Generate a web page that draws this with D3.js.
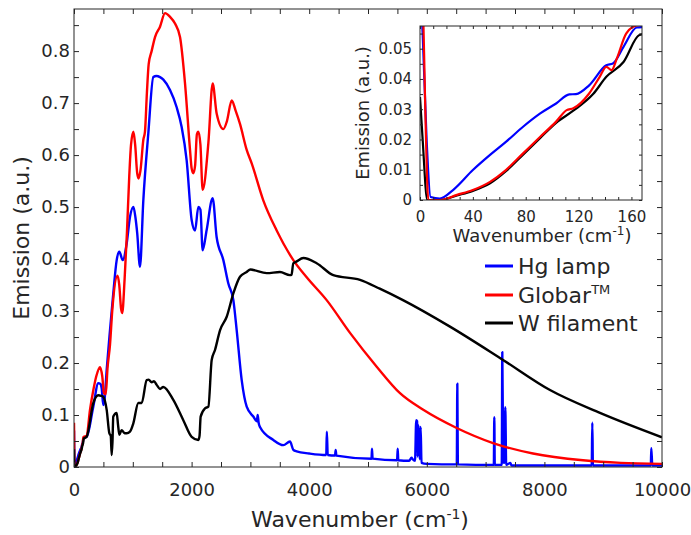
<!DOCTYPE html>
<html><head><meta charset="utf-8">
<script src="https://cdn.jsdelivr.net/npm/d3@7"></script>
<style>body{margin:0;background:#fff;} svg{display:block;} text{font-family:"DejaVu Sans",Verdana,sans-serif;fill:#262626;}</style>
</head><body>
<svg id="c" width="691" height="535"></svg>
<script>
// ---- data (wavenumber cm^-1, emission a.u.) ----
const seriesNames = ["Hg lamp", "Globar", "W filament"];
const hgLamp = [[0,0.07],[2,0.055],[5,0.02],[8,0.001],[15,0.0005],[25,0.0033],[40,0.0099],[53,0.0149],[65,0.0192],[78,0.0242],[91,0.0286],[103,0.0319],[113,0.0349],[118,0.035],[128,0.0379],[141,0.0445],[146,0.0451],[154,0.0506],[164,0.057],
[215,0.058],[328,0.116],[413,0.161],[445,0.16],[470,0.152],[498,0.119],[520,0.13],[556,0.187],[612,0.263],[668,0.334],[726,0.398],[771,0.414],[828,0.398],[896,0.43],[952,0.481],[1010,0.5],[1045,0.48],[1075,0.45],[1122,0.385],[1179,0.513],[1264,0.642],[1349,0.75],[1400,0.752],[1463,0.75],[1520,0.745],[1633,0.725],[1746,0.692],[1831,0.654],[1916,0.59],[2001,0.475],[2058,0.455],[2115,0.5],[2150,0.495],[2188,0.417],[2256,0.456],[2358,0.517],[2426,0.442],[2540,0.398],[2625,0.353],[2710,0.321],[2767,0.263],[2852,0.167],[2937,0.116],[3050,0.097],[3110,0.088],[3124,0.1],[3140,0.085],[3163,0.077],[3390,0.052],[3560,0.042],[3673,0.049],[3730,0.033],[3787,0.03],[4000,0.026],
[4290,0.023],[4300,0.068],[4315,0.023],[4440,0.022],[4450,0.033],[4462,0.022],[5060,0.016],[5068,0.035],[5078,0.016],[5495,0.013],[5505,0.035],[5515,0.013],[5700,0.012],[5740,0.018],[5760,0.015],[5800,0.012],[5820,0.09],[5835,0.088],[5845,0.02],[5860,0.08],[5880,0.015],[5895,0.077],[5910,0.008],[6000,0.006],[6510,0.005],[6519,0.16],[6528,0.005],[7140,0.004],[7148,0.096],[7156,0.004],[7275,0.004],[7284,0.221],[7300,0.01],[7320,0.008],[7335,0.115],[7350,0.004],[7420,0.008],[7440,0.003],[8000,0.003],[8805,0.003],[8815,0.085],[8825,0.003],[9810,0.003],[9818,0.036],[9835,0.003],[10000,0.003]];
const globar = [[0,0.085],[2,0.07],[4,0.03],[6.3,0],[15,0],[28,0.0017],[40,0.0033],[53,0.006],[65,0.0099],[78,0.0154],[91,0.0209],[103,0.0259],[111,0.0297],[116,0.0303],[128,0.0352],[136,0.0407],[141,0.044],[145,0.0429],[149,0.0468],[156,0.055],[164,0.0577],
[215,0.06],[272,0.11],[329,0.148],[380,0.175],[442,0.192],[480,0.175],[510,0.142],[540,0.14],[570,0.19],[612,0.235],[650,0.3],[740,0.368],[770,0.35],[800,0.305],[820,0.296],[860,0.36],[900,0.45],[940,0.56],[970,0.62],[1010,0.645],[1040,0.62],[1075,0.565],[1100,0.555],[1130,0.57],[1180,0.63],[1207,0.645],[1240,0.72],[1270,0.775],[1320,0.8],[1378,0.827],[1463,0.847],[1548,0.873],[1633,0.866],[1718,0.853],[1803,0.827],[1888,0.738],[1973,0.61],[2000,0.575],[2030,0.565],[2060,0.58],[2090,0.64],[2115,0.645],[2150,0.62],[2188,0.533],[2285,0.623],[2358,0.738],[2426,0.68],[2540,0.65],[2600,0.665],[2682,0.705],[2750,0.685],[2823,0.66],[2937,0.61],[3022,0.584],[3219,0.513],[3447,0.455],[3730,0.398],[3957,0.365],[4297,0.321],[4694,0.258],[5148,0.193],[5544,0.142],[5940,0.11],[6508,0.075],[7126,0.046],[7806,0.026],[8656,0.013],[9300,0.008],[10000,0.006]];
const wFilament = [[0,0.034],[2,0.02],[5.5,0],[15,0],[28,0.0015],[40,0.003],[53,0.0055],[65,0.0095],[78,0.015],[91,0.0205],[103,0.0255],[116,0.0295],[131,0.035],[141,0.0407],[154,0.0456],[166,0.0545],
[215,0.058],[328,0.123],[413,0.138],[460,0.137],[498,0.135],[556,0.11],[601,0.065],[625,0.06],[641,0.023],[655,0.05],[668,0.097],[726,0.104],[750,0.08],[771,0.062],[811,0.071],[860,0.065],[896,0.065],[952,0.068],[1009,0.084],[1094,0.123],[1151,0.123],[1236,0.167],[1270,0.168],[1321,0.163],[1360,0.165],[1406,0.158],[1463,0.15],[1519,0.154],[1689,0.129],[1859,0.09],[2001,0.058],[2115,0.052],[2135,0.06],[2154,0.097],[2228,0.113],[2285,0.116],[2342,0.206],[2398,0.225],[2483,0.263],[2597,0.289],[2710,0.334],[2823,0.366],[2937,0.375],[3000,0.38],[3050,0.379],[3277,0.373],[3503,0.375],[3673,0.369],[3700,0.37],[3730,0.392],[3780,0.395],[3900,0.402],[4127,0.392],[4410,0.369],[4864,0.36],[5200,0.343],[5595,0.321],[6394,0.27],[7296,0.206],[8095,0.148],[8945,0.104],[10000,0.057]];
const mainXTicks = [0,500,1000,1500,2000,2500,3000,3500,4000,4500,5000,5500,6000,6500,7000,7500,8000,8500,9000,9500,10000];
const mainXLabels = [0,2000,4000,6000,8000,10000];
const mainYTicks = [0,0.05,0.1,0.15,0.2,0.25,0.3,0.35,0.4,0.45,0.5,0.55,0.6,0.65,0.7,0.75,0.8,0.85];
const mainYLabels = [0,0.1,0.2,0.3,0.4,0.5,0.6,0.7,0.8];
const insetXTicks = [0,10,20,30,40,50,60,70,80,90,100,110,120,130,140,150,160];
const insetXLabels = [0,40,80,120,160];
const insetYTicks = [0,0.005,0.01,0.015,0.02,0.025,0.03,0.035,0.04,0.045,0.05,0.055];
const insetYLabels = [0,0.01,0.02,0.03,0.04,0.05];
const colors = ["#0000ff","#ff0000","#000000"];

const svg = d3.select("#c");
const M = {l:74, r:662, t:9, b:467};
const x = d3.scaleLinear().domain([0,10000]).range([M.l,M.r]);
const y = d3.scaleLinear().domain([0,0.881]).range([M.b,M.t]);

function fmtY(list,f){return d=>{const hit=list.some(v=>Math.abs(v-d)<1e-9);return hit?(d===0?"0":f(d)):"";};}

function drawAxes(g, xs, ys, xt, xl, yt, yl, yf, fs, padX, padY, tl){
  const [x0,x1]=xs.range(), [y0,y1]=ys.range();
  const ax=g.append("g").attr("transform",`translate(0,${y0})`)
    .call(d3.axisBottom(xs).tickValues(xt).tickSize(-tl).tickPadding(padX).tickFormat(d=>xl.includes(d)?String(d):""));
  const at=g.append("g").attr("transform",`translate(0,${y1})`)
    .call(d3.axisTop(xs).tickValues(xt).tickSize(-tl).tickFormat(""));
  const ay=g.append("g").attr("transform",`translate(${x0},0)`)
    .call(d3.axisLeft(ys).tickValues(yt).tickSize(-tl).tickPadding(padY).tickFormat(fmtY(yl,yf)));
  const ar=g.append("g").attr("transform",`translate(${x1},0)`)
    .call(d3.axisRight(ys).tickValues(yt).tickSize(-tl).tickFormat(""));
  [ax,at,ay,ar].forEach(a=>{a.select(".domain").remove();a.selectAll("line").attr("stroke","#262626");
    a.selectAll("text").style("font-size",fs+"px").attr("fill","#262626");});
  g.append("rect").attr("x",x0).attr("y",y1).attr("width",x1-x0).attr("height",y0-y1)
    .attr("fill","none").attr("stroke","#262626").attr("stroke-width",1);
}

// main plot
const main = svg.append("g");
svg.append("clipPath").attr("id","cm").append("rect")
  .attr("x",M.l).attr("y",M.t-3).attr("width",M.r-M.l).attr("height",M.b-M.t+3);
const line = d3.line().x(d=>x(d[0])).y(d=>y(d[1])).curve(d3.curveMonotoneX);
const gl = main.append("g").attr("clip-path","url(#cm)");
[hgLamp,globar,wFilament].forEach((s,i)=>{
  gl.append("path").datum(s).attr("d",line).attr("fill","none").attr("stroke",colors[i])
    .attr("stroke-width",2.4).attr("stroke-linejoin","round");
});
drawAxes(main,x,y,mainXTicks,mainXLabels,mainYTicks,mainYLabels,d3.format(".1f"),18,16,4,5);

main.append("text").attr("x",360).attr("y",527).attr("text-anchor","middle").style("font-size","22px")
  .html('Wavenumber (cm<tspan dy="-8" style="font-size:14px">-1</tspan><tspan dy="8">)</tspan>');
main.append("text").attr("transform","translate(29,238) rotate(-90)").attr("text-anchor","middle")
  .style("font-size","22px").text("Emission (a.u.)");

// legend
const legY=[266,295,323];
const legLabels=["Hg lamp","Globar","W filament"];
legLabels.forEach((t,i)=>{
  main.append("line").attr("x1",485).attr("x2",513).attr("y1",legY[i]).attr("y2",legY[i])
    .attr("stroke",colors[i]).attr("stroke-width",3);
  const tx=main.append("text").attr("x",518).attr("y",legY[i]+8).style("font-size","22px").text(t);
  if(i===1) tx.append("tspan").attr("dy",-9).style("font-size","13px").text("TM");
});

// inset
const I={l:420,r:642,t:26,b:200};
const xi=d3.scaleLinear().domain([0,168]).range([I.l,I.r]);
const yi=d3.scaleLinear().domain([0,0.0575]).range([I.b,I.t]);
const inset=svg.append("g");
inset.append("rect").attr("x",I.l).attr("y",I.t).attr("width",I.r-I.l).attr("height",I.b-I.t).attr("fill","#fff");
svg.append("clipPath").attr("id","ci").append("rect")
  .attr("x",I.l).attr("y",I.t).attr("width",I.r-I.l).attr("height",I.b-I.t);
const linei=d3.line().x(d=>xi(d[0])).y(d=>yi(d[1])).curve(d3.curveMonotoneX);
const gi=inset.append("g").attr("clip-path","url(#ci)");
[2,0,1].forEach(i=>{
  const s=[hgLamp,globar,wFilament][i].filter(d=>d[0]<=215);
  gi.append("path").datum(s).attr("d",linei).attr("fill","none").attr("stroke",colors[i])
    .attr("stroke-width",2.2).attr("stroke-linejoin","round");
});
drawAxes(inset,xi,yi,insetXTicks,insetXLabels,insetYTicks,insetYLabels,d3.format(".2f"),15,11,8,3);
inset.append("text").attr("x",542).attr("y",242).attr("text-anchor","middle").style("font-size","18px")
  .html('Wavenumber (cm<tspan dy="-7" style="font-size:12px">-1</tspan><tspan dy="7">)</tspan>');
inset.append("text").attr("transform","translate(369,113) rotate(-90)").attr("text-anchor","middle")
  .style("font-size","18px").text("Emission (a.u.)");
</script>
</body></html>
